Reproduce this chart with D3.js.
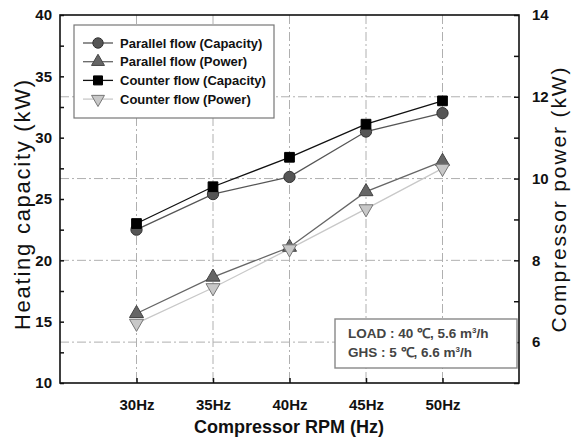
<!DOCTYPE html>
<html><head><meta charset="utf-8">
<script src="https://cdn.jsdelivr.net/npm/d3@7"></script>
<style>
html,body{margin:0;padding:0;background:#fff;}
svg{display:block;font-family:"Liberation Sans",Arial,sans-serif;}
</style></head>
<body>
<svg id="c" width="571" height="438"></svg>
<script>
const rpm = [30, 35, 40, 45, 50];
const rpmLabels = ["30Hz", "35Hz", "40Hz", "45Hz", "50Hz"];
const parallelCapacity = [22.5, 25.4, 26.8, 30.5, 32.0];
const counterCapacity = [23.0, 26.0, 28.4, 31.1, 33.0];
const parallelPower = [6.70, 7.59, 8.32, 9.68, 10.42];
const counterPower = [6.46, 7.33, 8.28, 9.26, 10.25];
const leftTicks = [10, 15, 20, 25, 30, 35, 40];
const rightTicks = [6, 8, 10, 12, 14];
const seriesNames = ["Parallel flow (Capacity)", "Parallel flow (Power)", "Counter flow (Capacity)", "Counter flow (Power)"];

const svg = d3.select("#c");
const L = 60, R = 519, T = 15, B = 383;
const x = d3.scaleLinear().domain([25, 55]).range([L, R]);
const yL = d3.scaleLinear().domain([10, 40]).range([B, T]);
const yR = d3.scaleLinear().domain([5, 14]).range([B, T]);

const dash = "9,3,2,3";
// grid
svg.append("g").selectAll("line").data(rightTicks.filter(d => d < 14)).join("line")
  .attr("x1", L).attr("x2", R).attr("y1", d => yR(d)).attr("y2", d => yR(d))
  .attr("stroke", "#b0b0b0").attr("stroke-width", 1).attr("stroke-dasharray", dash);
svg.append("g").selectAll("line").data(rpm).join("line")
  .attr("x1", d => x(d)).attr("x2", d => x(d)).attr("y1", T).attr("y2", B)
  .attr("stroke", "#b0b0b0").attr("stroke-width", 1).attr("stroke-dasharray", dash);

// axes (inward ticks)
const axL = d3.axisLeft(yL).tickValues(d3.range(10, 40.01, 2.5)).tickSize(-4).tickFormat(d => leftTicks.includes(d) ? d : "");
const gL = svg.append("g").attr("transform", `translate(${L},0)`).call(axL);
const axR = d3.axisRight(yR).tickValues(d3.range(5, 14.01, 1)).tickSize(-5).tickFormat(d => rightTicks.includes(d) ? d : "");
const gR = svg.append("g").attr("transform", `translate(${R},0)`).call(axR);
const axB = d3.axisBottom(x).tickValues(rpm).tickSize(-5).tickFormat((d, i) => rpmLabels[i]);
const gB = svg.append("g").attr("transform", `translate(0,${B})`).call(axB);
[gL, gR, gB].forEach(g => {
  g.select(".domain").remove();
  g.selectAll(".tick line").attr("stroke", "#111").attr("stroke-width", 1.5);
  g.selectAll("text").attr("font-family", "'Liberation Sans',Arial,sans-serif")
    .attr("font-size", 15).attr("font-weight", "bold").attr("fill", "#111");
});
gL.selectAll("text").attr("x", -8);
gR.selectAll("text").attr("x", 13);
gB.selectAll("text").attr("y", 16);

// frame
svg.append("rect").attr("x", L).attr("y", T).attr("width", R - L).attr("height", B - T)
  .attr("fill", "none").attr("stroke", "#111").attr("stroke-width", 1.6);

// series
const series = [
  {vals: parallelCapacity, y: yL, line: "#555", fill: "#555", stroke: "#333", sym: d3.symbolCircle, size: 100, rot: 0},
  {vals: parallelPower, y: yR, line: "#666", fill: "#666", stroke: "#444", sym: d3.symbolTriangle, size: 85, rot: 0},
  {vals: counterCapacity, y: yL, line: "#111", fill: "#000", stroke: "#000", sym: d3.symbolSquare, size: 95, rot: 0},
  {vals: counterPower, y: yR, line: "#c8c8c8", fill: "#c8c8c8", stroke: "#777", sym: d3.symbolTriangle, size: 85, rot: 180}
];
series.forEach(s => {
  const line = d3.line().x((d, i) => x(rpm[i])).y(d => s.y(d));
  svg.append("path").attr("d", line(s.vals)).attr("fill", "none").attr("stroke", s.line).attr("stroke-width", 1.3);
});
series.forEach(s => {
  svg.append("g").selectAll("path").data(s.vals).join("path")
    .attr("d", d3.symbol().type(s.sym).size(s.size))
    .attr("transform", (d, i) => `translate(${x(rpm[i])},${s.y(d)}) rotate(${s.rot})`)
    .attr("fill", s.fill).attr("stroke", s.stroke).attr("stroke-width", 1);
});

// legend
const lg = svg.append("g");
lg.append("rect").attr("x", 74).attr("y", 25).attr("width", 200).attr("height", 93)
  .attr("fill", "#fff").attr("stroke", "#777").attr("stroke-width", 1.2);
series.forEach((s, i) => {
  const cy = 43 + i * 18.7;
  lg.append("line").attr("x1", 83).attr("x2", 113).attr("y1", cy).attr("y2", cy)
    .attr("stroke", s.line).attr("stroke-width", 1.3);
  lg.append("path").attr("d", d3.symbol().type(s.sym).size(s.size * 0.85))
    .attr("transform", `translate(98,${cy}) rotate(${s.rot})`)
    .attr("fill", s.fill).attr("stroke", s.stroke).attr("stroke-width", 1);
  lg.append("text").attr("x", 120).attr("y", cy + 4.5).text(seriesNames[i])
    .attr("font-size", 13).attr("font-weight", "bold").attr("fill", "#111");
});

// annotation
const an = svg.append("g");
an.append("rect").attr("x", 335).attr("y", 319).attr("width", 182).attr("height", 49)
  .attr("fill", "#fff").attr("stroke", "#888").attr("stroke-width", 1.4);
const annLines = [["LOAD : 40 ℃, 5.6 m", "/h"], ["GHS : 5 ℃, 6.6 m", "/h"]];
annLines.forEach((t, i) => {
  const tx = an.append("text").attr("x", 348).attr("y", 338 + i * 19)
    .attr("font-size", 13.5).attr("font-weight", "bold").attr("fill", "#444");
  tx.append("tspan").text(t[0]);
  tx.append("tspan").attr("font-size", 8).attr("dy", -5).text("3");
  tx.append("tspan").attr("dy", 5).text(t[1]);
});

// axis titles
svg.append("text").attr("x", 289).attr("y", 433).attr("text-anchor", "middle")
  .attr("font-size", 18).attr("font-weight", "bold").attr("fill", "#111").text("Compressor RPM (Hz)");
svg.append("text").attr("transform", "translate(30,205) rotate(-90)").attr("text-anchor", "middle")
  .attr("font-family", "'Liberation Sans Narrow','Arial Narrow','Liberation Sans',sans-serif")
  .attr("font-size", 22).attr("fill", "#111")
  .attr("textLength", 250).attr("lengthAdjust", "spacing").text("Heating capacity (kW)");
svg.append("text").attr("transform", "translate(566,200) rotate(-90)").attr("text-anchor", "middle")
  .attr("font-family", "'Liberation Sans Narrow','Arial Narrow','Liberation Sans',sans-serif")
  .attr("font-size", 21).attr("fill", "#111")
  .attr("textLength", 265).attr("lengthAdjust", "spacing").text("Compressor power (kW)");
</script>
</body></html>
